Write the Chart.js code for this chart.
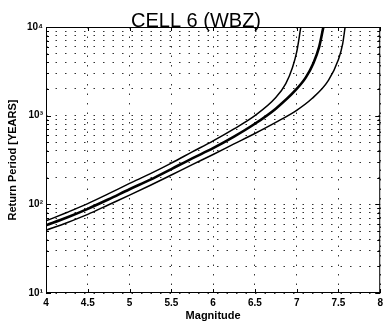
<!DOCTYPE html>
<html>
<head>
<meta charset="utf-8">
<script src="https://cdn.jsdelivr.net/npm/chart.js@4.4.0/dist/chart.umd.min.js"></script>
<style>
  html, body { margin: 0; padding: 0; background: #fff; }
  #wrap { width: 387px; height: 326px; }
</style>
</head>
<body>
<div id="wrap"><canvas id="chart" width="387" height="326"></canvas></div>
<script>
// Data
const chartTitle = 'CELL 6 (WBZ)';

const magUpper = [4, 4.25, 4.5, 4.75, 5, 5.25, 5.5, 5.75, 6, 6.25, 6.5, 6.75, 6.87, 6.95, 7.0, 7.05];
const rpUpper  = [65, 81, 102, 132, 172, 222, 292, 390, 520, 710, 1000, 1600, 2300, 3500, 5200, 10000];

const magMiddle = [4, 4.25, 4.5, 4.75, 5, 5.25, 5.5, 5.75, 6, 6.25, 6.5, 6.75, 7.0, 7.11, 7.2, 7.27, 7.32];
const rpMiddle  = [58, 71, 89, 114, 148, 190, 250, 330, 430, 580, 810, 1200, 2000, 2700, 3900, 6000, 10000];

const magLower = [4, 4.25, 4.5, 4.75, 5, 5.25, 5.5, 5.75, 6, 6.25, 6.5, 6.75, 7.0, 7.18, 7.38, 7.5, 7.55, 7.58];
const rpLower  = [51, 62, 77, 99, 127, 164, 214, 280, 365, 480, 630, 840, 1150, 1550, 2500, 4300, 6400, 10000];

const xTicks = [4, 4.5, 5, 5.5, 6, 6.5, 7, 7.5, 8];
const yMajor = [10, 100, 1000, 10000];
const yTickLabels = ['10\u00b9', '10\u00b2', '10\u00b3', '10\u2074'];

// minor log grid: 1..9 x 10^k
const yTicks = [];
yMajor.forEach((p, i) => {
  if (i === yMajor.length - 1) { yTicks.push(p); return; }
  for (let m = 1; m <= 9; m++) yTicks.push(p * m);
});

const toPoints = (xs, ys) => xs.map((x, i) => ({ x: x, y: ys[i] }));

// frame, title and inward ticks (MATLAB style)
const framePlugin = {
  id: 'frame',
  afterDraw(chart) {
    const { ctx, chartArea: a, scales } = chart;
    ctx.save();
    ctx.strokeStyle = '#000';
    ctx.lineWidth = 1;
    ctx.strokeRect(a.left + 0.5, a.top + 0.5, a.right - a.left - 1, a.bottom - a.top - 1);

    ctx.beginPath();
    xTicks.forEach(v => {
      const px = Math.round(scales.x.getPixelForValue(v)) + 0.5;
      ctx.moveTo(px, a.bottom); ctx.lineTo(px, a.bottom - 4);
      ctx.moveTo(px, a.top); ctx.lineTo(px, a.top + 4);
    });
    yTicks.forEach(v => {
      const py = Math.round(scales.y.getPixelForValue(v)) + 0.5;
      const len = yMajor.includes(v) ? 5 : 3;
      ctx.moveTo(a.left, py); ctx.lineTo(a.left + len, py);
      ctx.moveTo(a.right, py); ctx.lineTo(a.right - len, py);
    });
    ctx.stroke();

    ctx.fillStyle = '#000';
    ctx.font = '20px "Liberation Sans", Arial, sans-serif';
    ctx.textAlign = 'center';
    ctx.textBaseline = 'alphabetic';
    ctx.fillText(chartTitle, 196, 27);
    ctx.restore();
  }
};

const dotted = [1.5, 8];

new Chart(document.getElementById('chart'), {
  type: 'line',
  data: {
    datasets: [
      { data: toPoints(magUpper, rpUpper), borderColor: '#000', borderWidth: 1.5 },
      { data: toPoints(magMiddle, rpMiddle), borderColor: '#000', borderWidth: 2.6 },
      { data: toPoints(magLower, rpLower), borderColor: '#000', borderWidth: 1.5 }
    ]
  },
  options: {
    responsive: false,
    animation: false,
    events: [],
    layout: { autoPadding: false, padding: { top: 27, right: 1, bottom: 0, left: 0 } },
    elements: {
      point: { radius: 0 },
      line: { cubicInterpolationMode: 'monotone', fill: false }
    },
    plugins: { legend: { display: false }, tooltip: { enabled: false }, title: { display: false } },
    scales: {
      x: {
        type: 'linear',
        min: 4,
        max: 8,
        afterFit(scale) { scale.height = 33; },
        afterBuildTicks(scale) { scale.ticks = xTicks.map(v => ({ value: v })); },
        grid: { color: '#333', lineWidth: 1, drawTicks: false },
        border: { display: false, dash: dotted },
        ticks: {
          autoSkip: false,
          maxRotation: 0,
          padding: 4,
          color: '#000',
          font: { family: '"Liberation Sans", Arial, sans-serif', size: 10, weight: 'bold' },
          callback: v => String(v)
        },
        title: {
          display: true,
          text: 'Magnitude',
          color: '#000',
          font: { family: '"Liberation Sans", Arial, sans-serif', size: 11, weight: 'bold' },
          padding: { top: 0, bottom: 3 }
        }
      },
      y: {
        type: 'logarithmic',
        min: 10,
        max: 10000,
        afterFit(scale) { scale.width = 46; },
        afterBuildTicks(scale) { scale.ticks = yTicks.map(v => ({ value: v })); },
        grid: { color: '#333', lineWidth: 1, drawTicks: false },
        border: { display: false, dash: dotted },
        ticks: {
          autoSkip: false,
          padding: 3,
          color: '#000',
          font: { family: '"Liberation Sans", Arial, sans-serif', size: 10, weight: 'bold' },
          callback: v => {
            const i = yMajor.indexOf(v);
            return i >= 0 ? yTickLabels[i] : '';
          }
        },
        title: {
          display: true,
          text: 'Return Period [YEARS]',
          color: '#000',
          font: { family: '"Liberation Sans", Arial, sans-serif', size: 11, weight: 'bold' },
          padding: { top: 6, bottom: 0 }
        }
      }
    }
  },
  plugins: [framePlugin]
});
</script>
</body>
</html>
